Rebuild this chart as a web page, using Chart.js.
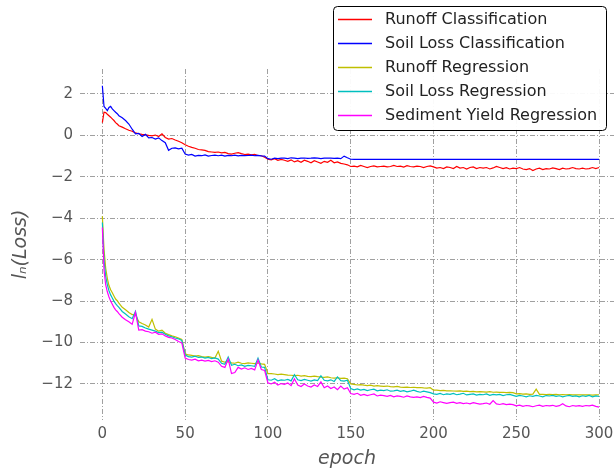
<!DOCTYPE html>
<html>
<head>
<meta charset="utf-8">
<script src="https://cdn.jsdelivr.net/npm/chart.js@4/dist/chart.umd.min.js"></script>
<style>
  html, body { margin: 0; padding: 0; background: #fff; overflow: hidden; }
</style>
</head>
<body>
<canvas id="chart" width="614" height="470"></canvas>
<script>
// epochs (every epoch at the start, then every 2nd)
const epochs = [
  0, 1, 2, 3, 4, 5, 6, 7, 8, 9,
  10, 12, 14, 16, 18, 20, 22, 24, 26, 28,
  30, 32, 34, 36, 38, 40, 42, 44, 46, 48,
  50, 52, 54, 56, 58, 60, 62, 64, 66, 68,
  70, 72, 74, 76, 78, 80, 82, 84, 86, 88,
  90, 92, 94, 96, 98, 100, 102, 104, 106, 108,
  110, 112, 114, 116, 118, 120, 122, 124, 126, 128,
  130, 132, 134, 136, 138, 140, 142, 144, 146, 148,
  150, 152, 154, 156, 158, 160, 162, 164, 166, 168,
  170, 172, 174, 176, 178, 180, 182, 184, 186, 188,
  190, 192, 194, 196, 198, 200, 202, 204, 206, 208,
  210, 212, 214, 216, 218, 220, 222, 224, 226, 228,
  230, 232, 234, 236, 238, 240, 242, 244, 246, 248,
  250, 252, 254, 256, 258, 260, 262, 264, 266, 268,
  270, 272, 274, 276, 278, 280, 282, 284, 286, 288,
  290, 292, 294, 296, 298, 300
];

const runoffCls = [
  0.62, 1.12, 1.1, 1.02, 0.95, 0.88, 0.8, 0.72, 0.62, 0.55,
  0.47, 0.4, 0.32, 0.25, 0.2, 0.12, 0.08, 0.05, 0.03, 0.0,
  -0.02, 0.02, -0.05, 0.08, -0.1, -0.18, -0.15, -0.22, -0.28, -0.35,
  -0.45, -0.52, -0.58, -0.62, -0.68, -0.7, -0.72, -0.78, -0.8, -0.82,
  -0.8, -0.84, -0.82, -0.88, -0.9, -0.86, -0.83, -0.88, -0.92, -0.9,
  -0.94, -0.92, -0.97, -0.98, -1.05, -1.15, -1.18, -1.12, -1.2, -1.16,
  -1.2, -1.25, -1.18, -1.28, -1.22, -1.3, -1.2, -1.25, -1.32, -1.22,
  -1.28, -1.35, -1.25, -1.3, -1.2, -1.32, -1.28, -1.35, -1.38, -1.42,
  -1.5, -1.48, -1.52, -1.45, -1.5, -1.55, -1.5, -1.47, -1.52, -1.5,
  -1.48, -1.52, -1.5, -1.45, -1.5, -1.48, -1.53, -1.46, -1.5, -1.52,
  -1.48, -1.5, -1.55, -1.5, -1.47, -1.52, -1.58, -1.55, -1.6, -1.52,
  -1.55, -1.6, -1.5, -1.58, -1.55, -1.62, -1.55, -1.52, -1.6, -1.55,
  -1.58, -1.55, -1.62, -1.57, -1.5, -1.55, -1.6, -1.56, -1.62, -1.58,
  -1.6, -1.55, -1.62, -1.65, -1.6, -1.7, -1.62, -1.58, -1.65, -1.6,
  -1.62, -1.57, -1.6, -1.65, -1.58, -1.62, -1.6, -1.55, -1.6, -1.62,
  -1.58, -1.62, -1.6, -1.55, -1.6, -1.55
];

const soilLossCls = [
  2.4, 1.4, 1.3, 1.2, 1.35, 1.4, 1.28, 1.2, 1.12, 1.05,
  0.95, 0.85, 0.72, 0.55, 0.3, 0.08, 0.1, -0.05, 0.05, -0.12,
  -0.1, -0.18, -0.12, -0.25, -0.35, -0.72, -0.62, -0.6, -0.65, -0.62,
  -0.9, -0.95, -0.92, -1.0, -0.96, -0.98, -0.94, -1.0, -0.97, -0.95,
  -0.98, -0.95, -1.0, -0.96, -0.98, -0.95, -0.99, -0.96, -0.98, -0.97,
  -0.95, -0.98, -0.96, -0.99, -1.0, -1.12, -1.15, -1.1, -1.12, -1.1,
  -1.1, -1.12, -1.08, -1.1, -1.12, -1.1, -1.09, -1.11, -1.1, -1.08,
  -1.1, -1.12, -1.1, -1.09, -1.1, -1.11, -1.1, -1.12, -1.0, -1.08,
  -1.15, -1.16, -1.15, -1.16, -1.15, -1.16, -1.16, -1.15, -1.16, -1.16,
  -1.15, -1.16, -1.16, -1.15, -1.16, -1.16, -1.15, -1.16, -1.16, -1.15,
  -1.16, -1.16, -1.15, -1.16, -1.16, -1.16, -1.15, -1.16, -1.16, -1.16,
  -1.16, -1.15, -1.16, -1.16, -1.16, -1.15, -1.16, -1.16, -1.16, -1.16,
  -1.16, -1.16, -1.15, -1.16, -1.16, -1.16, -1.16, -1.15, -1.16, -1.16,
  -1.16, -1.16, -1.16, -1.15, -1.16, -1.16, -1.16, -1.16, -1.15, -1.16,
  -1.16, -1.16, -1.16, -1.16, -1.15, -1.16, -1.16, -1.16, -1.16, -1.16,
  -1.16, -1.15, -1.16, -1.16, -1.16, -1.16
];

const runoffReg = [
  -3.9, -5.5, -6.4, -6.9, -7.25, -7.45, -7.6, -7.75, -7.9, -7.98,
  -8.1, -8.3, -8.42, -8.55, -8.65, -8.65, -9.0, -9.08, -9.15, -9.25,
  -8.88, -9.35, -9.45, -9.4, -9.55, -9.62, -9.68, -9.72, -9.78, -9.85,
  -10.55, -10.6, -10.62, -10.65, -10.63, -10.68, -10.7, -10.68, -10.72, -10.75,
  -10.42, -10.9, -10.95, -10.92, -10.98, -11.0, -10.95, -11.0, -11.02, -10.98,
  -11.0, -11.02, -10.98, -11.03, -11.05, -11.5, -11.5, -11.52, -11.55, -11.53,
  -11.55, -11.57, -11.58, -11.6, -11.58, -11.62, -11.6, -11.63, -11.65, -11.62,
  -11.65, -11.67, -11.68, -11.66, -11.7, -11.72, -11.7, -11.73, -11.72, -11.75,
  -12.0, -12.02, -12.05, -12.03, -12.06, -12.08, -12.06, -12.1, -12.08, -12.1,
  -12.12, -12.1, -12.13, -12.14, -12.12, -12.15, -12.16, -12.15, -12.17, -12.16,
  -12.18, -12.17, -12.19, -12.2, -12.18, -12.3, -12.3, -12.32, -12.31, -12.33,
  -12.33, -12.34, -12.35, -12.33, -12.36, -12.35, -12.37, -12.36, -12.38, -12.37,
  -12.38, -12.39, -12.37, -12.4, -12.39, -12.41, -12.4, -12.42, -12.41, -12.42,
  -12.48, -12.47, -12.49, -12.48, -12.5, -12.49, -12.25, -12.5, -12.5, -12.51,
  -12.5, -12.51, -12.5, -12.52, -12.51, -12.52, -12.51, -12.53, -12.52, -12.53,
  -12.52, -12.53, -12.52, -12.54, -12.53, -12.52
];

const soilLossReg = [
  -4.2, -6.0, -6.8, -7.2, -7.5, -7.7, -7.85, -8.0, -8.12, -8.22,
  -8.3, -8.5, -8.62, -8.75, -8.85, -8.5, -9.2, -9.22, -9.3, -9.35,
  -9.4, -9.45, -9.52, -9.5, -9.6, -9.68, -9.72, -9.78, -9.82, -9.9,
  -10.6, -10.68, -10.7, -10.66, -10.72, -10.7, -10.75, -10.72, -10.78, -10.74,
  -10.8, -11.0, -11.05, -10.7, -11.1, -11.05, -11.12, -11.08, -11.15, -11.1,
  -11.12, -11.15, -10.75, -11.18, -11.2, -11.8, -11.82, -11.75, -11.85, -11.8,
  -11.82, -11.78, -11.85, -11.55, -11.8, -11.84, -11.78, -11.82, -11.86, -11.8,
  -11.84, -11.6, -11.82, -11.85, -11.8, -11.88, -11.66, -11.84, -11.86, -11.82,
  -12.22, -12.28, -12.24, -12.3, -12.26, -12.32, -12.28, -12.25, -12.33, -12.3,
  -12.32, -12.28, -12.35, -12.33, -12.3, -12.36, -12.32, -12.38, -12.35, -12.3,
  -12.36, -12.4, -12.35, -12.38, -12.42, -12.48, -12.5, -12.46, -12.52, -12.48,
  -12.5, -12.46, -12.52, -12.49, -12.45, -12.53, -12.5, -12.48, -12.54, -12.5,
  -12.52, -12.48, -12.55, -12.5, -12.53, -12.5, -12.56, -12.52, -12.5, -12.55,
  -12.6, -12.55, -12.58, -12.62, -12.57, -12.6, -12.55, -12.58, -12.62, -12.56,
  -12.58, -12.55, -12.6, -12.57, -12.62, -12.58, -12.55, -12.6, -12.58, -12.62,
  -12.57, -12.6, -12.55, -12.62, -12.58, -12.6
];

const sedimentReg = [
  -4.45, -6.5, -7.2, -7.55, -7.8, -8.0, -8.15, -8.3, -8.42, -8.5,
  -8.6, -8.78, -8.9, -9.0, -9.12, -8.55, -9.4, -9.38, -9.45, -9.48,
  -9.55, -9.5, -9.6, -9.58, -9.68, -9.75, -9.78, -9.85, -9.95, -10.02,
  -10.75, -10.82, -10.85, -10.8, -10.88, -10.85, -10.9, -10.86, -10.92, -10.88,
  -10.95, -11.15, -11.2, -10.8, -11.5, -11.45, -11.2, -11.28, -11.22, -11.3,
  -11.25, -11.32, -10.85, -11.3, -11.35, -11.95, -12.0, -11.92, -12.05, -11.98,
  -12.02, -11.95, -12.08, -11.75, -12.05, -12.12, -12.0, -12.1, -12.15, -12.05,
  -12.12, -11.9, -12.18, -12.1, -12.22, -12.15, -12.28, -12.1, -12.25, -12.18,
  -12.46, -12.5, -12.45, -12.55, -12.5, -12.56, -12.52, -12.48, -12.58, -12.54,
  -12.56, -12.6, -12.55, -12.62, -12.58, -12.6, -12.64, -12.58, -12.62, -12.65,
  -12.62, -12.66, -12.6, -12.65, -12.68, -12.88, -12.92, -12.86, -12.9, -12.94,
  -12.9, -12.88, -12.94, -12.9, -12.95, -12.92, -12.96, -12.9, -12.94, -12.97,
  -12.95, -12.92, -12.98, -12.8, -12.96, -12.99, -12.95, -13.0, -12.97, -13.0,
  -13.06, -13.02, -13.08, -13.04, -13.06, -13.1, -13.05, -13.02, -13.08, -13.04,
  -13.06, -13.03, -13.08, -13.05, -12.95, -13.06, -13.1, -13.04, -13.07, -13.05,
  -13.08, -13.04, -13.06, -13.02, -13.08, -13.12
];

const seriesNames = [
  'Runoff Classification',
  'Soil Loss Classification',
  'Runoff Regression',
  'Soil Loss Regression',
  'Sediment Yield Regression'
];
const xTicks = [0, 50, 100, 150, 200, 250, 300];
const yTicks = [2, 0, -2, -4, -6, -8, -10, -12];

const allSeries = [runoffCls, soilLossCls, runoffReg, soilLossReg, sedimentReg];
const colors = ['#ff0000', '#0000ff', '#bfbf00', '#00bfbf', '#ff00ff'];
const FONT = '"DejaVu Sans", sans-serif';

const datasets = allSeries.map((vals, i) => ({
  label: seriesNames[i],
  data: vals.map((v, j) => ({ x: epochs[j], y: v })),
  borderColor: colors[i],
  backgroundColor: colors[i],
  borderWidth: 1.2,
  pointRadius: 0,
  tension: 0,
  fill: false,
  order: allSeries.length - i   // later series drawn on top, like matplotlib
}));

// legend drawn inside the plot, top right, with a rounded frame
const legendBox = {
  id: 'legendBox',
  afterDraw(chart) {
    const ctx = chart.ctx;
    ctx.save();
    ctx.beginPath();
    ctx.roundRect(333.5, 6.5, 273, 124, 4);
    ctx.fillStyle = 'rgba(255,255,255,0.95)';
    ctx.fill();
    ctx.strokeStyle = '#000';
    ctx.lineWidth = 1;
    ctx.stroke();
    ctx.font = '16px ' + FONT;
    ctx.textBaseline = 'middle';
    chart.data.datasets.forEach((ds, i) => {
      const yy = 19.5 + i * 24;
      ctx.strokeStyle = ds.borderColor;
      ctx.lineWidth = 1.5;
      ctx.beginPath();
      ctx.moveTo(338, yy);
      ctx.lineTo(372, yy);
      ctx.stroke();
      ctx.fillStyle = '#222';
      ctx.fillText(ds.label, 385, yy);
    });
    ctx.restore();
  }
};

const fmt = v => (v < 0 ? '\u2212' + Math.abs(v) : String(v));

new Chart(document.getElementById('chart'), {
  type: 'line',
  data: { datasets },
  options: {
    responsive: false,
    animation: false,
    layout: { padding: { top: 69, right: 0, left: 0, bottom: 0 } },
    plugins: { legend: { display: false }, tooltip: { enabled: false } },
    scales: {
      x: {
        type: 'linear',
        min: -13.5,
        max: 309,
        afterBuildTicks: s => { s.ticks = xTicks.map(v => ({ value: v })); },
        afterFit: s => { s.height = 50; s.paddingLeft = 0; s.paddingRight = 0; },
        grid: { color: '#a0a0a0', lineWidth: 1, drawTicks: false },
        border: { display: false, dash: [5, 2, 1, 2] },
        ticks: {
          color: '#555',
          font: { family: FONT, size: 15 },
          padding: 5,
          maxRotation: 0,
          callback: fmt
        },
        title: {
          display: true,
          text: 'epoch',
          color: '#555',
          font: { family: FONT, size: 19, style: 'italic' },
          padding: { top: 0, bottom: 0 }
        }
      },
      y: {
        type: 'linear',
        min: -13.74,
        max: 3.207,
        afterBuildTicks: s => { s.ticks = yTicks.map(v => ({ value: v })); },
        afterFit: s => { s.width = 80; s.paddingTop = 0; s.paddingBottom = 0; },
        grid: { color: '#a0a0a0', lineWidth: 1, drawTicks: false },
        border: { display: false, dash: [5, 2, 1, 2] },
        ticks: {
          color: '#555',
          font: { family: FONT, size: 15 },
          padding: 7,
          callback: fmt
        },
        title: {
          display: true,
          text: 'lₙ(Loss)',
          color: '#555',
          font: { family: FONT, size: 19, style: 'italic' },
          padding: { top: 10, bottom: 0 }
        }
      }
    }
  },
  plugins: [legendBox]
});
</script>
</body>
</html>
